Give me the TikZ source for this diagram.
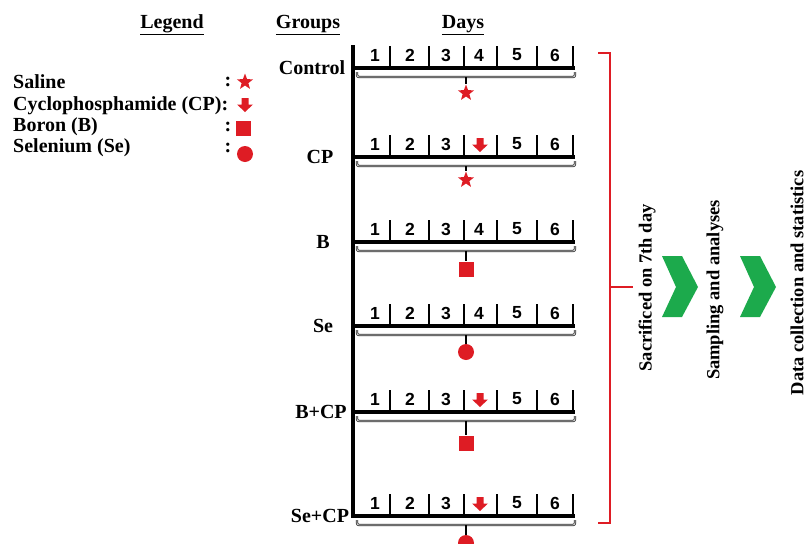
\documentclass[tikz,border=0pt]{standalone}
\usepackage{fontspec}
\setmainfont{Liberation Serif}
\setsansfont{Liberation Sans}
\usepackage{tikz}
\usetikzlibrary{shapes.geometric}
\definecolor{symred}{RGB}{222,28,36}
\definecolor{chevgreen}{RGB}{28,170,76}

\begin{document}
\begin{tikzpicture}[
  x=1pt, y=-1pt,
  every node/.style={font=\bfseries\fontsize{20}{24}\selectfont, inner sep=1pt},
  daynum/.style={font=\sffamily\bfseries\fontsize{17.5}{20}\selectfont},
  steptext/.style={rotate=90, font=\bfseries\fontsize{18.5}{22}\selectfont},
  rail/.style={line width=3.5pt},
  tickln/.style={line width=2.6pt},
  brk/.style={draw=black!80, double=white!85!black, double distance=0.8pt, line width=0.8pt, rounded corners=2pt},
  stem/.style={line width=1.2pt},
  starsym/.style={star, star points=5, star point ratio=2.4, fill=symred, minimum size=17pt, inner sep=0pt},
  sqsym/.style={rectangle, fill=symred, minimum size=15pt, inner sep=0pt},
  dotsym/.style={circle, fill=symred, minimum size=16pt, inner sep=0pt},
  cpsym/.style={rectangle, minimum width=16pt, minimum height=14pt, inner sep=0pt,
    path picture={\fill[symred] ([xshift=-3.5pt]path picture bounding box.north) -- ([xshift=3.5pt]path picture bounding box.north)
      -- ++(0,-6.5pt) -- ++(4.5pt,0) -- (path picture bounding box.south) -- ++(-8pt,7.5pt) -- ++(4.5pt,0) -- cycle;}},
  chev/.style={fill=chevgreen},
  redbr/.style={draw=symred, line width=1.8pt}
]
\useasboundingbox (0,0) rectangle (807,544);

% headers
\node (hlegend) at (172,25) {\underline{Legend}};
\node (hgroups) at (308,25) {\underline{Groups}};
\node (hdays) at (463,25) {\underline{Days}};

% legend
\node[anchor=west] (lsal) at (12,82) {Saline};
\node[anchor=west] (lcp) at (12,106) {Cyclophosphamide (CP):};
\node[anchor=west] (lbor) at (12,127) {Boron (B)};
\node[anchor=west] (lsel) at (12,148) {Selenium (Se)};
\node (csal) at (228,82) {:};
\node (cbor) at (228,127) {:};
\node (csel) at (228,148) {:};
\node[starsym] (ksal) at (245,82) {};
\node[cpsym] (kcp) at (245,105) {};
\node[sqsym] (kbor) at (243,128) {};
\node[dotsym] (ksel) at (245,154) {};

% timelines
\draw[rail] (353,45) -- (353,517);
\foreach \y/\grp/\gx/\sym/\sy/\cp [count=\i] in {68/Control/312/starsym/93/0, 157/CP/320/starsym/180/1,
    242/B/323/sqsym/269/0, 326/Se/323/dotsym/352/0, 412/B+CP/321/sqsym/443/1, 516/Se+CP/320/dotsym/543/1}{
  \node (g\i) at (\gx,\y) {\grp};
  \draw[rail] (351,\y) -- (575,\y);
  \foreach \tx in {390,429,464,497,537,573}
    \draw[tickln] (\tx,\y) -- (\tx,\y-22);
  \foreach \n/\nx in {1/375,2/410,3/446,5/517,6/555}
    \node[daynum] at (\nx,\y-13) {\n};
  \ifnum\cp=1 \node[cpsym] (a\i) at (480,\y-12) {};
  \else \node[daynum] (a\i) at (479,\y-13) {4};
  \fi
  \draw[brk] (357,\y+4) -- (357,\y+9) -- (575,\y+9) -- (575,\y+4);
  \coordinate (b\i) at (466,\y+9);
  \node[\sym] (s\i) at (466,\sy) {};
  \draw[stem] (b\i) -- (s\i);
}

% end of treatment
\coordinate (rtop) at (598,53);
\coordinate (rbot) at (598,523);
\coordinate (rmid) at (610,287);
\coordinate (rtip) at (633,287);
\draw[redbr] (rtop) -- (610,53) -- (610,523) -- (rbot);
\draw[redbr] (rmid) -- (rtip);

\node[steptext] (sac) at (647,288) {Sacrificed on 7th day};
\node[steptext] (samp) at (715,290) {Sampling and analyses};
\node[steptext] (data) at (797,283) {Data collection and statistics};
\foreach \cx in {662,740}
  \fill[chev] (\cx,256) -- (\cx+20,256) -- (\cx+36,287) -- (\cx+20,317) -- (\cx,317) -- (\cx+14,287) -- cycle;
\end{tikzpicture}
\end{document}
